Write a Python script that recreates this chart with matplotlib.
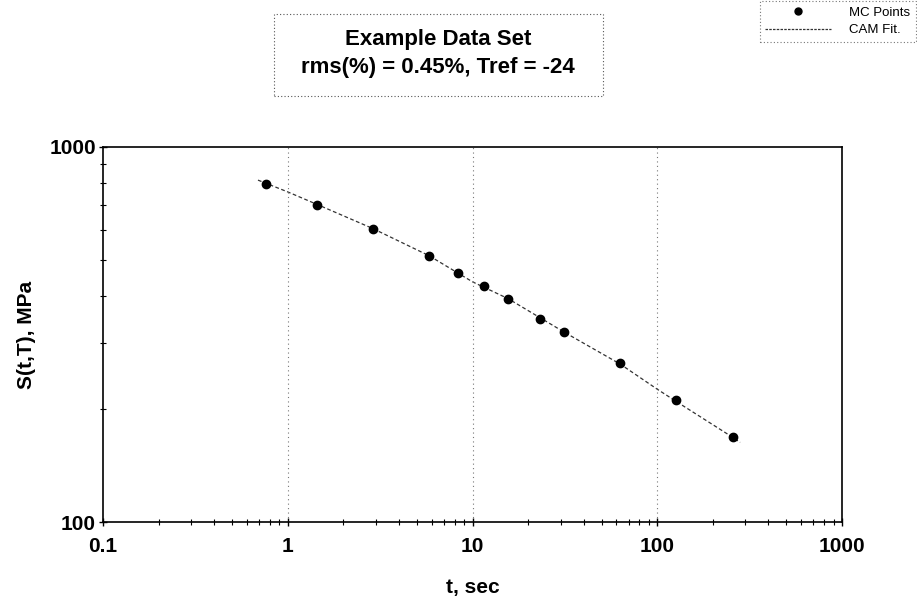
import matplotlib
matplotlib.use('agg')
import matplotlib.pyplot as plt
from matplotlib.lines import Line2D
from matplotlib.patches import Rectangle
from matplotlib.ticker import LogLocator, FixedLocator, FixedFormatter, NullFormatter

plt.rcParams['font.family'] = ['Liberation Sans', 'DejaVu Sans']

# DATA ###############################################################

mc_time = [0.76, 1.44, 2.89, 5.82, 8.34, 11.5, 15.6, 23.2, 31.3, 62.8, 126, 257]
mc_stress = [797, 700, 604, 512, 461, 426, 393, 348, 321, 265, 211, 169]

fit_time = [0.69, 1.0, 1.44, 2.89, 5.82, 10, 15.6, 31.3, 62.8, 100, 126, 257, 281]
fit_stress = [816, 759, 703, 606, 513, 437, 394, 321, 264, 226, 210, 168, 163]

x_ticks = [0.1, 1, 10, 100, 1000]
x_labels = ['0.1', '1', '10', '100', '1000']
y_ticks = [100, 1000]
y_labels = ['100', '1000']

title_lines = ['Example Data Set', 'rms(%) = 0.45%, Tref = -24']

# PLOT ###############################################################

W, H = 917, 602
fig = plt.figure(figsize=(W / 100, H / 100), dpi=100)
ax = fig.add_axes([103 / W, 1 - 522 / H, (842 - 103) / W, (522 - 147) / H])

ax.plot(fit_time, fit_stress, linestyle=(0, (3, 2)), color='#333333', linewidth=0.9)
ax.plot(mc_time, mc_stress, 'o', color='black', markersize=6, linestyle='none')

ax.set_xscale('log')
ax.set_yscale('log')
ax.set_xlim(0.1, 1000)
ax.set_ylim(100, 1000)

ax.xaxis.set_major_locator(FixedLocator(x_ticks))
ax.xaxis.set_major_formatter(FixedFormatter(x_labels))
ax.yaxis.set_major_locator(FixedLocator(y_ticks))
ax.yaxis.set_major_formatter(FixedFormatter(y_labels))
ax.xaxis.set_minor_locator(LogLocator(base=10, subs=range(2, 10), numticks=20))
ax.yaxis.set_minor_locator(LogLocator(base=10, subs=range(2, 10), numticks=20))
ax.xaxis.set_minor_formatter(NullFormatter())
ax.yaxis.set_minor_formatter(NullFormatter())

ax.tick_params(which='major', direction='inout', length=6, width=1, labelsize=15, pad=8)
ax.tick_params(axis='y', which='major', pad=2)
ax.tick_params(which='minor', direction='inout', length=4, width=0.8)
for lab in ax.get_xticklabels() + ax.get_yticklabels():
    lab.set_fontweight('bold')

for x in x_ticks[1:-1]:
    ax.axvline(x, color='#777777', linestyle=(0, (1, 3)), linewidth=0.8)

for sp in ax.spines.values():
    sp.set_linewidth(1.2)
    sp.set_color('black')

ax.set_xlabel('t, sec', fontsize=15, fontweight='bold', labelpad=16)
ax.set_ylabel('S(t,T), MPa', fontsize=15, fontweight='bold', labelpad=10)

# title box
fig.patches.append(Rectangle((274 / W, 1 - 96 / H), (603 - 274) / W, (96 - 14) / H,
                             transform=fig.transFigure, facecolor='white',
                             edgecolor='#555555', linestyle=(0, (1, 2)), linewidth=0.8))
fig.text(438 / W, 1 - 40 / H, title_lines[0], ha='center', va='center',
         fontsize=16, fontweight='bold')
fig.text(438 / W, 1 - 68 / H, title_lines[1], ha='center', va='center',
         fontsize=16, fontweight='bold')

handles = [
    Line2D([], [], marker='o', color='black', linestyle='none', markersize=5),
    Line2D([], [], color='#333333', linestyle=(0, (2, 1)), linewidth=0.9),
]
leg = fig.legend(handles, ['MC Points', 'CAM Fit.'], loc='upper right',
                 bbox_to_anchor=(1.0, 1.0), fontsize=9.5, frameon=True, fancybox=False,
                 borderpad=0.4, labelspacing=0.4, handlelength=5, handletextpad=1.4,
                 borderaxespad=0.1)
leg.get_frame().set_edgecolor('#555555')
leg.get_frame().set_linestyle((0, (1, 2)))
leg.get_frame().set_linewidth(0.8)

plt.savefig('out.png', dpi=100)
